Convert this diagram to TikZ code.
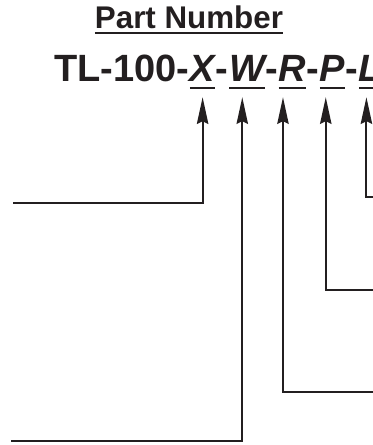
\documentclass[tikz,border=0pt]{standalone}
\usepackage{fontspec}
\setmainfont{Liberation Sans}
\usetikzlibrary{arrows.meta, positioning}
\definecolor{ink}{HTML}{231F20}

% underline drawn as a rule: [depth]{text}
\newcommand{\pnunder}[2][-5.2pt]{\setbox0\hbox{#2}\rlap{\rule[#1]{\wd0}{1.5pt}}\box0}

\begin{document}
\begin{tikzpicture}[
  x=0.75pt, y=-0.75pt,
  pn/.style={inner sep=0pt, text=ink, font=\fontsize{28.5}{30}\selectfont\bfseries},
  field/.style={pn, font=\fontsize{28.5}{30}\selectfont\bfseries\itshape},
  lead/.style={draw=ink, line width=1.6pt, -{Stealth[length=20pt, width=8.5pt, inset=2pt]}, shorten >=6pt}
]
\useasboundingbox (0,0) rectangle (372,445);

% Title
\node[inner sep=0pt, anchor=base, text=ink, font=\fontsize{23.5}{25}\selectfont\bfseries] (title) at (189,29) {\pnunder[-3.8pt]{Part Number}};

% Part number string
\node[pn, anchor=base west] (stem) at (54,82) {TL-100-};
\node[field, base right=0pt of stem] (lX) {\pnunder{X}};
\node[pn, base right=0pt of lX] (d1) {-};
\node[field, base right=0pt of d1] (lW) {\pnunder{W}};
\node[pn, base right=0pt of lW] (d2) {-};
\node[field, base right=0pt of d2] (lR) {\pnunder{R}};
\node[pn, base right=0pt of lR] (d3) {-};
\node[field, base right=0pt of d3] (lP) {\pnunder{P}};
\node[pn, base right=0pt of lP] (d4) {-};
\node[field, base right=0pt of d4] (lL) {\pnunder{L}};

% Free ends of the leader lines
\coordinate (inX) at (13,203);
\coordinate (inW) at (11,441);
\coordinate (inR) at (374,392);
\coordinate (inP) at (374,290);
\coordinate (inL) at (374,197);

% Leaders up to each field
\foreach \f/\dx in {X/0pt, W/-3.5pt, R/-7pt, P/-5pt, L/-3pt} {
  \draw[lead] (in\f) -| ([xshift=\dx]l\f.south);
}

\end{tikzpicture}
\end{document}
